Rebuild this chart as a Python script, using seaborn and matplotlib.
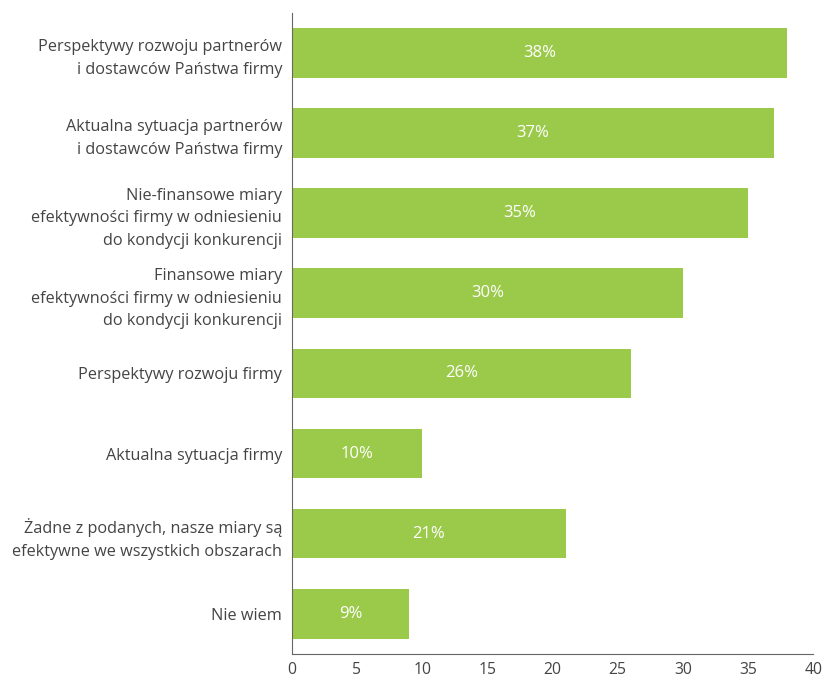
import matplotlib
matplotlib.use("Agg")
import matplotlib.pyplot as plt
import seaborn as sns

categories = [
    "Perspektywy rozwoju partnerów\ni dostawców Państwa firmy",
    "Aktualna sytuacja partnerów\ni dostawców Państwa firmy",
    "Nie-finansowe miary\nefektywności firmy w odniesieniu\ndo kondycji konkurencji",
    "Finansowe miary\nefektywności firmy w odniesieniu\ndo kondycji konkurencji",
    "Perspektywy rozwoju firmy",
    "Aktualna sytuacja firmy",
    "Żadne z podanych, nasze miary są\nefektywne we wszystkich obszarach",
    "Nie wiem",
]
values = [38, 37, 35, 30, 26, 10, 21, 9]
x_ticks = [0, 5, 10, 15, 20, 25, 30, 35, 40]

sns.set_style("white")
plt.rcParams["font.family"] = ["Open Sans", "DejaVu Sans"]

text_color = "#444444"
green = "#9bca4b"

fig = plt.figure(figsize=(8.29, 6.81), dpi=100, facecolor="white")
ax = fig.add_axes([0.352, 0.040, 0.629, 0.941])

sns.barplot(x=values, y=categories, orient="h", color=green, saturation=1,
            width=0.62, linewidth=0, ax=ax)

for i, v in enumerate(values):
    ax.text(v / 2, i, f"{v}%", ha="center", va="center", color="white", fontsize=12)

ax.set_xlim(0, 40)
ax.set_ylim(7.5, -0.5)
ax.set_xticks(x_ticks)
ax.set_xticklabels([str(t) for t in x_ticks])
ax.tick_params(axis="both", length=0, colors=text_color, labelsize=11.7)
ax.tick_params(axis="x", pad=6, labelsize=11.3)
ax.tick_params(axis="y", pad=7)
for lbl in ax.get_yticklabels():
    lbl.set_multialignment("right")
    lbl.set_linespacing(1.55)

sns.despine(ax=ax, top=True, right=True)
ax.spines["left"].set_color("#666666")
ax.spines["bottom"].set_color("#666666")
ax.set_xlabel("")
ax.set_ylabel("")

fig.savefig("out.png", dpi=100, facecolor="white")
